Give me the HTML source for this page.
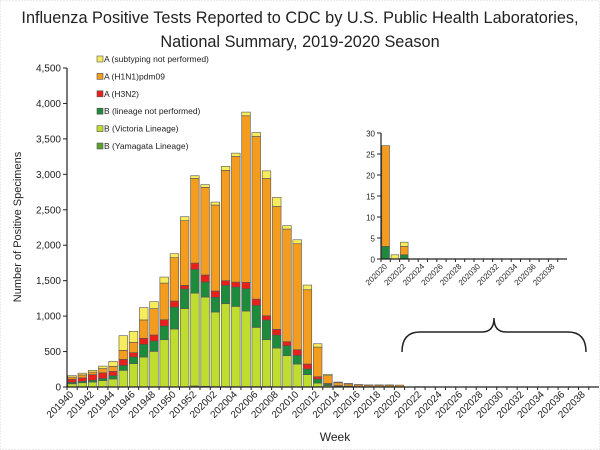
<!DOCTYPE html>
<html><head><meta charset="utf-8"><style>
body{margin:0;background:#fff;}
svg{display:block;font-family:"Liberation Sans",Arial,sans-serif;}
</style></head><body>
<svg width="600" height="450" viewBox="0 0 600 450">
<rect x="0.5" y="0.5" width="599" height="449" fill="#fff" stroke="#d8d8d8" stroke-dasharray="1,2"/>
<text x="300" y="23" text-anchor="middle" font-size="16.3" fill="#222">Influenza Positive Tests Reported to CDC by U.S. Public Health Laboratories,</text>
<text x="300" y="47" text-anchor="middle" font-size="16.3" fill="#222">National Summary, 2019-2020 Season</text>
<text transform="translate(21,227) rotate(-90)" text-anchor="middle" font-size="11" fill="#222">Number of Positive Specimens</text>
<text x="335" y="441" text-anchor="middle" font-size="12" fill="#222">Week</text>
<g id="main"></g>
<g id="inset"></g>
<g id="legend"></g>
<path d="M402,352 Q402,332 420,332 L482,332 Q494,332 494,318 Q494,332 506,332 L568,332 Q586,332 586,352" fill="none" stroke="#222" stroke-width="1.5"/>
</svg>
<script>
const weeks=[];
for(let w=40;w<=52;w++)weeks.push('2019'+w);
for(let w=1;w<=39;w++)weeks.push('2020'+String(w).padStart(2,'0'));
const yamagata=[0,0,0,0,0,0,0,0,0,0,0,0,15,10,5,5,5,5,5,5,0,0,0,0,0,0,0,0,0,0,0,0,0,0,0,0,0,0,0,0,0,0,0,0,0,0,0,0,0,0,0,0];
const victoria=[45,60,70,90,113,235,330,423,503,667,818,1105,1310,1259,1053,1170,1132,1067,836,662,550,442,324,174,56,20,8,5,0,0,0,0,0,0,0,0,0,0,0,0,0,0,0,0,0,0,0,0,0,0,0,0];
const bNotPerformed=[20,20,25,30,47,70,94,179,146,193,310,277,334,212,207,259,273,315,310,277,183,141,122,80,56,20,10,8,5,3,3,3,3,0,1,0,0,0,0,0,0,0,0,0,0,0,0,0,0,0,0,0];
const h3n2=[45,50,80,80,61,85,61,85,85,89,85,52,89,99,89,66,70,89,89,61,80,56,80,70,33,10,2,0,0,0,0,0,0,0,0,0,0,0,0,0,0,0,0,0,0,0,0,0,0,0,0,0];
const h1n1=[30,40,35,60,70,127,146,259,371,517,611,912,1194,1236,1213,1556,1772,2350,2294,1936,1734,1589,1495,1048,418,110,40,30,25,22,22,22,24,0,2,0,0,0,0,0,0,0,0,0,0,0,0,0,0,0,0,0];
const unsubtyped=[20,25,25,35,70,207,155,174,99,85,56,56,38,38,42,56,47,52,56,108,127,47,56,66,47,20,10,7,5,5,5,5,0,1,1,0,0,0,0,0,0,0,0,0,0,0,0,0,0,0,0,0];
const yTicks=[0,500,1000,1500,2000,2500,3000,3500,4000,4500];
const insetTicks=[0,5,10,15,20,25,30];
const insetStart=32;
const series=[
 {name:'yamagata',d:yamagata,c:'#5aa02c',label:'B (Yamagata Lineage)'},
 {name:'victoria',d:victoria,c:'#bfdd2e',label:'B (Victoria Lineage)'},
 {name:'b-not-performed',d:bNotPerformed,c:'#1e8a3c',label:'B (lineage not performed)'},
 {name:'h3n2',d:h3n2,c:'#e8201c',label:'A (H3N2)'},
 {name:'h1n1',d:h1n1,c:'#f39c1e',label:'A (H1N1)pdm09'},
 {name:'unsubtyped',d:unsubtyped,c:'#f8ec5c',label:'A (subtyping not performed)'}
];
const NS='http://www.w3.org/2000/svg';
function mk(p,t,a){const e=document.createElementNS(NS,t);for(const k in a)e.setAttribute(k,a[k]);p.appendChild(e);return e;}
function drawChart(g,opts,prefix){
 const {x0,x1,y0,y1,max,ticks,start,n,fmt,fs}=opts;
 const pitch=(x1-x0)/n;
 const ys=v=>y0-(v/max)*(y0-y1);
 const xs=i=>x0+i*pitch;
 let ax=mk(g,'line',{x1:x0,y1:y1,x2:x0,y2:y0,stroke:'#222','stroke-width':1.2});
 
 
 ticks.forEach(t=>{
  let tl=mk(g,'line',{x1:x0-4,y1:ys(t),x2:x0,y2:ys(t),stroke:'#222'});
  
  
  let tx=mk(g,'text',{x:x0-6,y:ys(t)+3.5,'text-anchor':'end','font-size':fs,fill:'#222'});
  tx.textContent=fmt(t);
  
  
 });
 for(let i=0;i<n;i++){
  const idx=start+i;
  let base=0;
  series.forEach(s=>{
   const v=s.d[idx]||0;
   if(v>0){
    let r=mk(g,'rect',{x:xs(i)+0.8,y:ys(base+v),width:pitch-1.6,height:ys(base)-ys(base+v),fill:s.c,stroke:'#555','stroke-width':0.6});
    
    
   }
   base+=v;
  });
  let t=mk(g,'line',{x1:xs(i),y1:y0,x2:xs(i),y2:y0+3,stroke:'#222'});
  
  
  if(i%2===0){
   const cx=xs(i)+pitch/2+2;
   let lb=mk(g,'text',{x:cx,y:y0+8,'text-anchor':'end','font-size':fs,fill:'#222',transform:`rotate(-45 ${cx} ${y0+8})`});
   lb.textContent=weeks[idx];
   
   
  }
 }
 let xa=mk(g,'line',{x1:x0,y1:y0,x2:x1,y2:y0,stroke:'#222','stroke-width':1.2});
 
 
}
drawChart(document.getElementById('main'),{x0:67,x1:599,y0:387,y1:68,max:4500,ticks:yTicks,start:0,n:52,fmt:v=>v.toLocaleString('en-US'),fs:10},'');
drawChart(document.getElementById('inset'),{x0:381,x1:567,y0:259,y1:133,max:30,ticks:insetTicks,start:insetStart,n:20,fmt:v=>String(v),fs:8},'inset-');
const lg=document.getElementById('legend');
series.slice().reverse().forEach((s,i)=>{
 const y=62+i*17.4;
 let r=mk(lg,'rect',{x:97,y:y-6,width:6,height:6,fill:s.c,stroke:'#555','stroke-width':0.6});
 
 
 let t=mk(lg,'text',{x:104,y:y,'font-size':8.5,fill:'#222'});
 t.textContent=s.label;
 
 
});
</script>
</body></html>
